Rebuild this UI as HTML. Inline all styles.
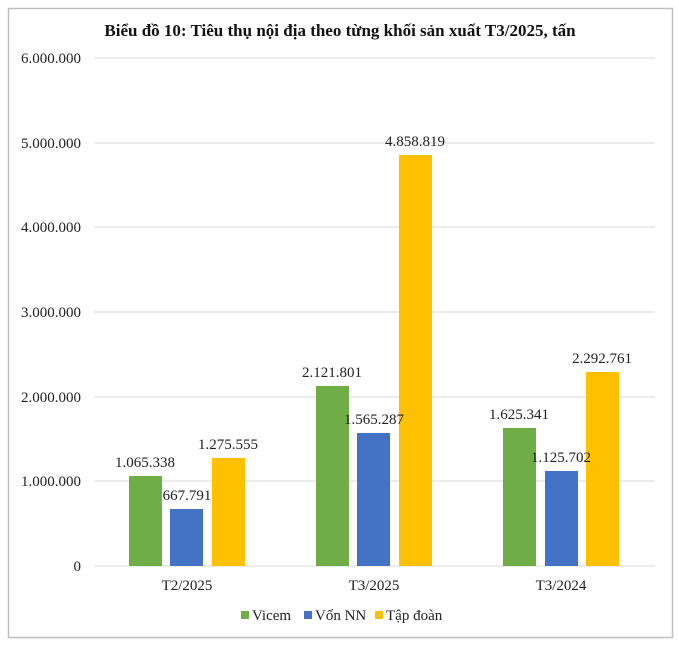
<!DOCTYPE html><html><head><meta charset="utf-8"><style>body{margin:0;background:#fff}</style></head><body>
<svg width="679" height="646" xmlns="http://www.w3.org/2000/svg" font-family="Liberation Serif, serif">
<rect x="0" y="0" width="679" height="646" fill="#fff"/>
<rect x="8.5" y="8.5" width="664" height="629" fill="#fff" stroke="#bfbfbf" stroke-width="1.5"/>
<text x="340" y="36" text-anchor="middle" font-size="17" font-weight="bold" fill="#111">Biểu đồ 10: Tiêu thụ nội địa theo từng khối sản xuất T3/2025, tấn</text>
<g stroke="#d9d9d9" stroke-width="1">
<line x1="94" x2="655" y1="58" y2="58"/><line x1="94" x2="655" y1="143" y2="143"/><line x1="94" x2="655" y1="227" y2="227"/><line x1="94" x2="655" y1="312" y2="312"/><line x1="94" x2="655" y1="397" y2="397"/><line x1="94" x2="655" y1="481" y2="481"/><line x1="94" x2="655" y1="566" y2="566"/>
</g>
<g font-size="15" fill="#222" text-anchor="end">
<text x="81" y="63">6.000.000</text><text x="81" y="148">5.000.000</text><text x="81" y="232">4.000.000</text><text x="81" y="317">3.000.000</text><text x="81" y="402">2.000.000</text><text x="81" y="486">1.000.000</text><text x="81" y="571">0</text>
</g>
<g>
<rect x="129" y="476" width="33" height="90" fill="#70ad47"/>
<rect x="170" y="509" width="33" height="57" fill="#4472c4"/>
<rect x="212" y="458" width="33" height="108" fill="#ffc000"/>
<rect x="316" y="386" width="33" height="180" fill="#70ad47"/>
<rect x="357" y="433" width="33" height="133" fill="#4472c4"/>
<rect x="399" y="155" width="33" height="411" fill="#ffc000"/>
<rect x="503" y="428" width="33" height="138" fill="#70ad47"/>
<rect x="545" y="471" width="33" height="95" fill="#4472c4"/>
<rect x="586" y="372" width="33" height="194" fill="#ffc000"/>
</g>
<g font-size="15" fill="#222" text-anchor="middle">
<text x="145" y="467">1.065.338</text><text x="187" y="500">667.791</text><text x="228" y="449">1.275.555</text>
<text x="332" y="377">2.121.801</text><text x="374" y="424">1.565.287</text><text x="415" y="146">4.858.819</text>
<text x="519" y="419">1.625.341</text><text x="561" y="462">1.125.702</text><text x="602" y="363">2.292.761</text>
<text x="187" y="590">T2/2025</text><text x="374" y="590">T3/2025</text><text x="561" y="590">T3/2024</text>
</g>
<g font-size="15" fill="#222">
<rect x="241" y="611" width="8" height="8" fill="#70ad47"/><text x="252" y="620">Vicem</text>
<rect x="304" y="611" width="8" height="8" fill="#4472c4"/><text x="315" y="620">Vốn NN</text>
<rect x="375" y="611" width="8" height="8" fill="#ffc000"/><text x="386" y="620">Tập đoàn</text>
</g>
</svg></body></html>
